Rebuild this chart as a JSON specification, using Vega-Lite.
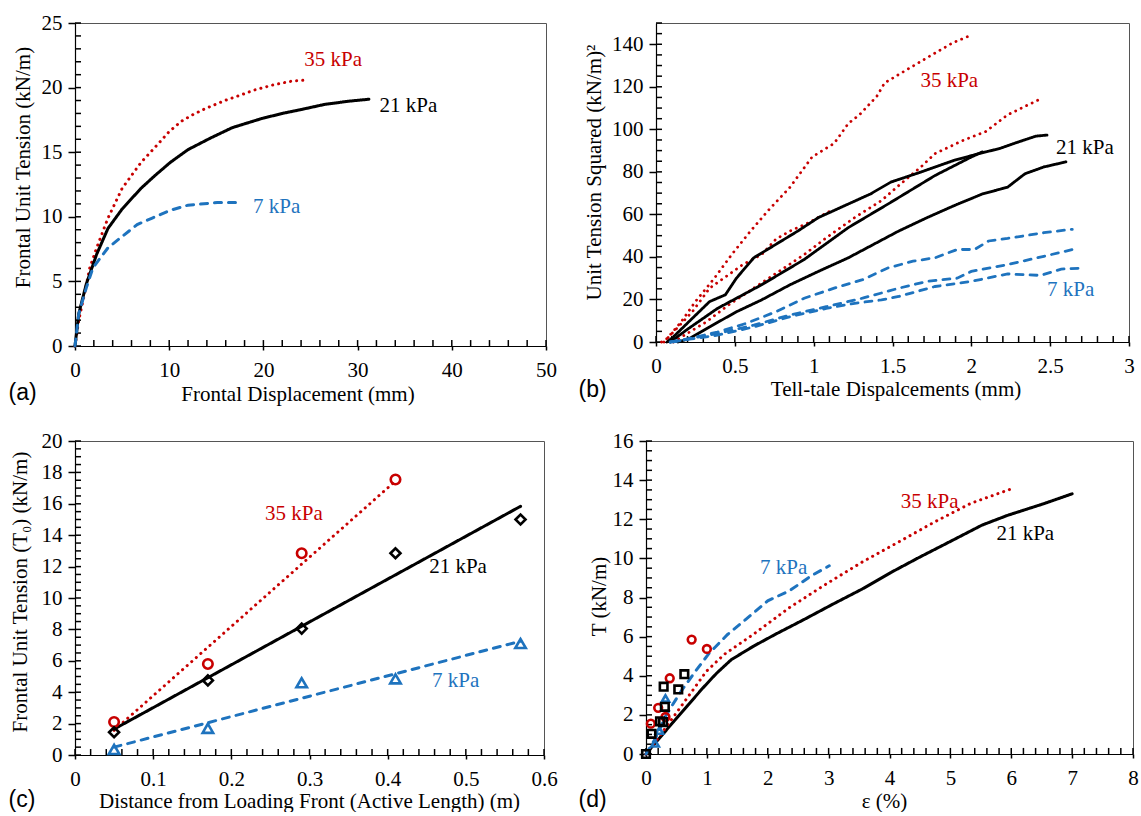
{
  "$schema": "https://vega.github.io/schema/vega-lite/v6.json",
  "background": "white",
  "padding": {"left": 7, "top": 11, "right": 0, "bottom": 0},
  "config": {
    "font": "Liberation Serif",
    "view": {"stroke": "#555", "strokeWidth": 1},
    "axis": {
      "labelFont": "Liberation Serif", "labelFontSize": 21, "labelColor": "#000",
      "titleFont": "Liberation Serif", "titleFontSize": 21, "titleFontWeight": "normal", "titleColor": "#000",
      "tickColor": "#000", "tickWidth": 1.5, "domainColor": "#000", "domainWidth": 1.2, "grid": false,
      "labelFlush": false, "labelOverlap": false
    },
    "text": {"font": "Liberation Serif", "fontSize": 21}
  },
  "datasets": {
    "a_xt": [{"v":0},{"v":2},{"v":4},{"v":6},{"v":8},{"v":10},{"v":12},{"v":14},{"v":16},{"v":18},{"v":20},{"v":22},{"v":24},{"v":26},{"v":28},{"v":30},{"v":32},{"v":34},{"v":36},{"v":38},{"v":40},{"v":42},{"v":44},{"v":46},{"v":48},{"v":50}],
    "a_yt": [{"v":0},{"v":1},{"v":2},{"v":3},{"v":4},{"v":5},{"v":6},{"v":7},{"v":8},{"v":9},{"v":10},{"v":11},{"v":12},{"v":13},{"v":14},{"v":15},{"v":16},{"v":17},{"v":18},{"v":19},{"v":20},{"v":21},{"v":22},{"v":23},{"v":24},{"v":25}],
    "b_xt": [{"v":0},{"v":0.1},{"v":0.2},{"v":0.3},{"v":0.4},{"v":0.5},{"v":0.6},{"v":0.7},{"v":0.8},{"v":0.9},{"v":1},{"v":1.1},{"v":1.2},{"v":1.3},{"v":1.4},{"v":1.5},{"v":1.6},{"v":1.7},{"v":1.8},{"v":1.9},{"v":2},{"v":2.1},{"v":2.2},{"v":2.3},{"v":2.4},{"v":2.5},{"v":2.6},{"v":2.7},{"v":2.8},{"v":2.9},{"v":3}],
    "b_yt": [{"v":0},{"v":5},{"v":10},{"v":15},{"v":20},{"v":25},{"v":30},{"v":35},{"v":40},{"v":45},{"v":50},{"v":55},{"v":60},{"v":65},{"v":70},{"v":75},{"v":80},{"v":85},{"v":90},{"v":95},{"v":100},{"v":105},{"v":110},{"v":115},{"v":120},{"v":125},{"v":130},{"v":135},{"v":140},{"v":145},{"v":150}],
    "c_xt": [{"v":0},{"v":0.02},{"v":0.04},{"v":0.06},{"v":0.08},{"v":0.1},{"v":0.12},{"v":0.14},{"v":0.16},{"v":0.18},{"v":0.2},{"v":0.22},{"v":0.24},{"v":0.26},{"v":0.28},{"v":0.3},{"v":0.32},{"v":0.34},{"v":0.36},{"v":0.38},{"v":0.4},{"v":0.42},{"v":0.44},{"v":0.46},{"v":0.48},{"v":0.5},{"v":0.52},{"v":0.54},{"v":0.56},{"v":0.58},{"v":0.6}],
    "c_yt": [{"v":0},{"v":0.5},{"v":1},{"v":1.5},{"v":2},{"v":2.5},{"v":3},{"v":3.5},{"v":4},{"v":4.5},{"v":5},{"v":5.5},{"v":6},{"v":6.5},{"v":7},{"v":7.5},{"v":8},{"v":8.5},{"v":9},{"v":9.5},{"v":10},{"v":10.5},{"v":11},{"v":11.5},{"v":12},{"v":12.5},{"v":13},{"v":13.5},{"v":14},{"v":14.5},{"v":15},{"v":15.5},{"v":16},{"v":16.5},{"v":17},{"v":17.5},{"v":18},{"v":18.5},{"v":19},{"v":19.5},{"v":20}],
    "d_xt": [{"v":0},{"v":0.2},{"v":0.4},{"v":0.6},{"v":0.8},{"v":1},{"v":1.2},{"v":1.4},{"v":1.6},{"v":1.8},{"v":2},{"v":2.2},{"v":2.4},{"v":2.6},{"v":2.8},{"v":3},{"v":3.2},{"v":3.4},{"v":3.6},{"v":3.8},{"v":4},{"v":4.2},{"v":4.4},{"v":4.6},{"v":4.8},{"v":5},{"v":5.2},{"v":5.4},{"v":5.6},{"v":5.8},{"v":6},{"v":6.2},{"v":6.4},{"v":6.6},{"v":6.8},{"v":7},{"v":7.2},{"v":7.4},{"v":7.6},{"v":7.8},{"v":8}],
    "d_yt": [{"v":0},{"v":0.5},{"v":1},{"v":1.5},{"v":2},{"v":2.5},{"v":3},{"v":3.5},{"v":4},{"v":4.5},{"v":5},{"v":5.5},{"v":6},{"v":6.5},{"v":7},{"v":7.5},{"v":8},{"v":8.5},{"v":9},{"v":9.5},{"v":10},{"v":10.5},{"v":11},{"v":11.5},{"v":12},{"v":12.5},{"v":13},{"v":13.5},{"v":14},{"v":14.5},{"v":15},{"v":15.5},{"v":16}],
    "a_lines": [
      {"s":"35 kPa","x":0,"y":0},{"s":"35 kPa","x":0.4,"y":2},{"s":"35 kPa","x":1,"y":4},{"s":"35 kPa","x":1.55,"y":6},{"s":"35 kPa","x":2.3,"y":7.6},{"s":"35 kPa","x":3.5,"y":9.9},{"s":"35 kPa","x":5,"y":12.2},{"s":"35 kPa","x":7,"y":14.2},{"s":"35 kPa","x":8.9,"y":15.7},{"s":"35 kPa","x":10,"y":16.6},{"s":"35 kPa","x":11.3,"y":17.4},{"s":"35 kPa","x":12.5,"y":17.9},{"s":"35 kPa","x":13.6,"y":18.3},{"s":"35 kPa","x":15.9,"y":19.0},{"s":"35 kPa","x":17.5,"y":19.4},{"s":"35 kPa","x":19,"y":19.8},{"s":"35 kPa","x":21,"y":20.2},{"s":"35 kPa","x":23,"y":20.5},{"s":"35 kPa","x":24.8,"y":20.6},
      {"s":"21 kPa","x":0,"y":0},{"s":"21 kPa","x":0.4,"y":2.5},{"s":"21 kPa","x":1.2,"y":4.8},{"s":"21 kPa","x":2.3,"y":7.1},{"s":"21 kPa","x":3.5,"y":9.1},{"s":"21 kPa","x":5,"y":10.6},{"s":"21 kPa","x":7,"y":12.2},{"s":"21 kPa","x":8.5,"y":13.2},{"s":"21 kPa","x":10.1,"y":14.2},{"s":"21 kPa","x":12,"y":15.2},{"s":"21 kPa","x":14.4,"y":16.1},{"s":"21 kPa","x":16.7,"y":16.9},{"s":"21 kPa","x":19.8,"y":17.6},{"s":"21 kPa","x":22,"y":18},{"s":"21 kPa","x":24,"y":18.3},{"s":"21 kPa","x":26.5,"y":18.7},{"s":"21 kPa","x":29.1,"y":18.95},{"s":"21 kPa","x":31.2,"y":19.1},
      {"s":"7 kPa","x":0,"y":0},{"s":"7 kPa","x":0.4,"y":2.5},{"s":"7 kPa","x":1.2,"y":4.5},{"s":"7 kPa","x":1.9,"y":6.05},{"s":"7 kPa","x":3.5,"y":7.6},{"s":"7 kPa","x":4.7,"y":8.3},{"s":"7 kPa","x":6.6,"y":9.4},{"s":"7 kPa","x":8.2,"y":9.9},{"s":"7 kPa","x":10.1,"y":10.5},{"s":"7 kPa","x":12,"y":10.9},{"s":"7 kPa","x":15.1,"y":11.1},{"s":"7 kPa","x":17.7,"y":11.1}
    ],
    "a_text": [
      {"s":"35 kPa","x":27.4,"y":22.1,"label":"35 kPa"},
      {"s":"21 kPa","x":35.4,"y":18.6,"label":"21 kPa"},
      {"s":"7 kPa","x":21.4,"y":10.75,"label":"7 kPa"}
    ],
    "b_lines": [
      {"s":"35 kPa","c":"r1","x":0.035,"y":0},{"s":"35 kPa","c":"r1","x":0.07,"y":1.6},{"s":"35 kPa","c":"r1","x":0.16,"y":9.5},{"s":"35 kPa","c":"r1","x":0.25,"y":19},{"s":"35 kPa","c":"r1","x":0.37,"y":30},{"s":"35 kPa","c":"r1","x":0.48,"y":41.1},{"s":"35 kPa","c":"r1","x":0.6,"y":52.2},{"s":"35 kPa","c":"r1","x":0.71,"y":61.7},{"s":"35 kPa","c":"r1","x":0.85,"y":72.8},{"s":"35 kPa","c":"r1","x":0.99,"y":87},{"s":"35 kPa","c":"r1","x":1.13,"y":93.4},{"s":"35 kPa","c":"r1","x":1.22,"y":102.8},{"s":"35 kPa","c":"r1","x":1.29,"y":106.8},{"s":"35 kPa","c":"r1","x":1.4,"y":115.5},{"s":"35 kPa","c":"r1","x":1.45,"y":121.8},{"s":"35 kPa","c":"r1","x":1.54,"y":125.8},{"s":"35 kPa","c":"r1","x":1.72,"y":133.7},{"s":"35 kPa","c":"r1","x":1.885,"y":140.8},{"s":"35 kPa","c":"r1","x":2.0,"y":144.3},
      {"s":"35 kPa","c":"r2","x":0.05,"y":0},{"s":"35 kPa","c":"r2","x":0.11,"y":4.7},{"s":"35 kPa","c":"r2","x":0.23,"y":14.2},{"s":"35 kPa","c":"r2","x":0.34,"y":25.3},{"s":"35 kPa","c":"r2","x":0.46,"y":31.6},{"s":"35 kPa","c":"r2","x":0.55,"y":36.4},{"s":"35 kPa","c":"r2","x":0.67,"y":41.1},{"s":"35 kPa","c":"r2","x":0.76,"y":48.3},{"s":"35 kPa","c":"r2","x":0.85,"y":52.2},{"s":"35 kPa","c":"r2","x":0.97,"y":56.2},{"s":"35 kPa","c":"r2","x":1.1,"y":61.4},
      {"s":"35 kPa","c":"r3","x":0.11,"y":0},{"s":"35 kPa","c":"r3","x":0.18,"y":3.2},{"s":"35 kPa","c":"r3","x":0.32,"y":9.5},{"s":"35 kPa","c":"r3","x":0.46,"y":17.4},{"s":"35 kPa","c":"r3","x":0.62,"y":25.3},{"s":"35 kPa","c":"r3","x":0.78,"y":33.2},{"s":"35 kPa","c":"r3","x":0.94,"y":41.1},{"s":"35 kPa","c":"r3","x":1.08,"y":49},{"s":"35 kPa","c":"r3","x":1.26,"y":58.5},{"s":"35 kPa","c":"r3","x":1.43,"y":66.5},{"s":"35 kPa","c":"r3","x":1.54,"y":73.6},{"s":"35 kPa","c":"r3","x":1.68,"y":82.3},{"s":"35 kPa","c":"r3","x":1.77,"y":88.6},{"s":"35 kPa","c":"r3","x":1.95,"y":94.9},{"s":"35 kPa","c":"r3","x":2.09,"y":98.9},{"s":"35 kPa","c":"r3","x":2.23,"y":106.8},{"s":"35 kPa","c":"r3","x":2.34,"y":110.8},{"s":"35 kPa","c":"r3","x":2.45,"y":114.7},
      {"s":"21 kPa","c":"k1","x":0.07,"y":0},{"s":"21 kPa","c":"k1","x":0.11,"y":2.4},{"s":"21 kPa","c":"k1","x":0.23,"y":11.1},{"s":"21 kPa","c":"k1","x":0.34,"y":19},{"s":"21 kPa","c":"k1","x":0.44,"y":22.2},{"s":"21 kPa","c":"k1","x":0.51,"y":30},{"s":"21 kPa","c":"k1","x":0.62,"y":39.6},{"s":"21 kPa","c":"k1","x":0.76,"y":45.9},{"s":"21 kPa","c":"k1","x":0.9,"y":52.2},{"s":"21 kPa","c":"k1","x":1.03,"y":58.5},{"s":"21 kPa","c":"k1","x":1.22,"y":64.9},{"s":"21 kPa","c":"k1","x":1.36,"y":69.6},{"s":"21 kPa","c":"k1","x":1.49,"y":75.2},{"s":"21 kPa","c":"k1","x":1.68,"y":79.9},{"s":"21 kPa","c":"k1","x":1.89,"y":85.4},{"s":"21 kPa","c":"k1","x":2.05,"y":88.6},{"s":"21 kPa","c":"k1","x":2.18,"y":91},{"s":"21 kPa","c":"k1","x":2.3,"y":94.1},{"s":"21 kPa","c":"k1","x":2.41,"y":96.8},{"s":"21 kPa","c":"k1","x":2.48,"y":97.3},
      {"s":"21 kPa","c":"k2","x":0.09,"y":0},{"s":"21 kPa","c":"k2","x":0.2,"y":6},{"s":"21 kPa","c":"k2","x":0.39,"y":15.8},{"s":"21 kPa","c":"k2","x":0.67,"y":26.9},{"s":"21 kPa","c":"k2","x":0.94,"y":38.8},{"s":"21 kPa","c":"k2","x":1.22,"y":53.8},{"s":"21 kPa","c":"k2","x":1.49,"y":65.7},{"s":"21 kPa","c":"k2","x":1.77,"y":78.3},{"s":"21 kPa","c":"k2","x":2.0,"y":87},{"s":"21 kPa","c":"k2","x":2.07,"y":89.4},
      {"s":"21 kPa","c":"k3","x":0.14,"y":0},{"s":"21 kPa","c":"k3","x":0.21,"y":1.6},{"s":"21 kPa","c":"k3","x":0.34,"y":7.1},{"s":"21 kPa","c":"k3","x":0.51,"y":14.2},{"s":"21 kPa","c":"k3","x":0.67,"y":19.8},{"s":"21 kPa","c":"k3","x":0.85,"y":26.9},{"s":"21 kPa","c":"k3","x":1.03,"y":33.2},{"s":"21 kPa","c":"k3","x":1.22,"y":39.6},{"s":"21 kPa","c":"k3","x":1.38,"y":45.9},{"s":"21 kPa","c":"k3","x":1.54,"y":52.2},{"s":"21 kPa","c":"k3","x":1.72,"y":58.5},{"s":"21 kPa","c":"k3","x":1.89,"y":64.1},{"s":"21 kPa","c":"k3","x":2.07,"y":69.6},{"s":"21 kPa","c":"k3","x":2.23,"y":72.8},{"s":"21 kPa","c":"k3","x":2.34,"y":79.1},{"s":"21 kPa","c":"k3","x":2.46,"y":82.3},{"s":"21 kPa","c":"k3","x":2.6,"y":84.7},
      {"s":"7 kPa","c":"b1","x":0.09,"y":0},{"s":"7 kPa","c":"b1","x":0.21,"y":1.6},{"s":"7 kPa","c":"b1","x":0.39,"y":4.7},{"s":"7 kPa","c":"b1","x":0.57,"y":8.7},{"s":"7 kPa","c":"b1","x":0.76,"y":14.2},{"s":"7 kPa","c":"b1","x":0.94,"y":20.6},{"s":"7 kPa","c":"b1","x":1.13,"y":25.3},{"s":"7 kPa","c":"b1","x":1.31,"y":29.3},{"s":"7 kPa","c":"b1","x":1.47,"y":34.8},{"s":"7 kPa","c":"b1","x":1.63,"y":38},{"s":"7 kPa","c":"b1","x":1.77,"y":39.6},{"s":"7 kPa","c":"b1","x":1.91,"y":43.5},{"s":"7 kPa","c":"b1","x":2.02,"y":43.5},{"s":"7 kPa","c":"b1","x":2.11,"y":47.5},{"s":"7 kPa","c":"b1","x":2.23,"y":48.7},{"s":"7 kPa","c":"b1","x":2.46,"y":51.4},{"s":"7 kPa","c":"b1","x":2.64,"y":53},
      {"s":"7 kPa","c":"b2","x":0.09,"y":0},{"s":"7 kPa","c":"b2","x":0.16,"y":0.8},{"s":"7 kPa","c":"b2","x":0.39,"y":4},{"s":"7 kPa","c":"b2","x":0.62,"y":7.9},{"s":"7 kPa","c":"b2","x":0.85,"y":12.7},{"s":"7 kPa","c":"b2","x":1.08,"y":16.6},{"s":"7 kPa","c":"b2","x":1.31,"y":20.6},{"s":"7 kPa","c":"b2","x":1.54,"y":25.3},{"s":"7 kPa","c":"b2","x":1.72,"y":28.5},{"s":"7 kPa","c":"b2","x":1.91,"y":30},{"s":"7 kPa","c":"b2","x":2.0,"y":33.2},{"s":"7 kPa","c":"b2","x":2.23,"y":36.4},{"s":"7 kPa","c":"b2","x":2.46,"y":40.3},{"s":"7 kPa","c":"b2","x":2.66,"y":43.8},
      {"s":"7 kPa","c":"b3","x":0.11,"y":0},{"s":"7 kPa","c":"b3","x":0.16,"y":0.8},{"s":"7 kPa","c":"b3","x":0.39,"y":3.2},{"s":"7 kPa","c":"b3","x":0.62,"y":7.1},{"s":"7 kPa","c":"b3","x":0.85,"y":11.9},{"s":"7 kPa","c":"b3","x":1.08,"y":15.8},{"s":"7 kPa","c":"b3","x":1.26,"y":18.2},{"s":"7 kPa","c":"b3","x":1.43,"y":19.8},{"s":"7 kPa","c":"b3","x":1.54,"y":21.4},{"s":"7 kPa","c":"b3","x":1.77,"y":26.1},{"s":"7 kPa","c":"b3","x":2.0,"y":28.5},{"s":"7 kPa","c":"b3","x":2.23,"y":32},{"s":"7 kPa","c":"b3","x":2.44,"y":31.3},{"s":"7 kPa","c":"b3","x":2.57,"y":34.3},{"s":"7 kPa","c":"b3","x":2.72,"y":34.8}
    ],
    "b_text": [
      {"s":"35 kPa","x":1.86,"y":122.9,"label":"35 kPa"},
      {"s":"21 kPa","x":2.72,"y":91,"label":"21 kPa"},
      {"s":"7 kPa","x":2.63,"y":24.5,"label":"7 kPa"}
    ],
    "c_lines": [
      {"s":"35 kPa","x":0.05,"y":1.57},{"s":"35 kPa","x":0.41,"y":17.45},
      {"s":"21 kPa","x":0.05,"y":1.65},{"s":"21 kPa","x":0.57,"y":15.84},
      {"s":"7 kPa","x":0.05,"y":0.5},{"s":"7 kPa","x":0.57,"y":7.25}
    ],
    "c_pts": [
      {"s":"35 kPa","x":0.05,"y":2.1},{"s":"35 kPa","x":0.17,"y":5.8},{"s":"35 kPa","x":0.29,"y":12.85},{"s":"35 kPa","x":0.41,"y":17.55},
      {"s":"21 kPa","x":0.05,"y":1.45},{"s":"21 kPa","x":0.17,"y":4.75},{"s":"21 kPa","x":0.29,"y":8.05},{"s":"21 kPa","x":0.41,"y":12.85},{"s":"21 kPa","x":0.57,"y":15.0},
      {"s":"7 kPa","x":0.05,"y":0.35},{"s":"7 kPa","x":0.17,"y":1.7},{"s":"7 kPa","x":0.29,"y":4.6},{"s":"7 kPa","x":0.41,"y":4.85},{"s":"7 kPa","x":0.57,"y":7.1}
    ],
    "c_text": [
      {"s":"35 kPa","x":0.28,"y":15.34,"label":"35 kPa"},
      {"s":"21 kPa","x":0.49,"y":12.0,"label":"21 kPa"},
      {"s":"7 kPa","x":0.487,"y":4.73,"label":"7 kPa"}
    ],
    "d_lines": [
      {"s":"21 kPa","x":0,"y":0},{"s":"21 kPa","x":0.21,"y":0.77},{"s":"21 kPa","x":0.45,"y":1.64},{"s":"21 kPa","x":0.69,"y":2.5},{"s":"21 kPa","x":0.93,"y":3.36},{"s":"21 kPa","x":1.16,"y":4.13},{"s":"21 kPa","x":1.4,"y":4.82},{"s":"21 kPa","x":1.76,"y":5.5},{"s":"21 kPa","x":2.12,"y":6.11},{"s":"21 kPa","x":2.6,"y":6.88},{"s":"21 kPa","x":3.07,"y":7.66},{"s":"21 kPa","x":3.55,"y":8.43},{"s":"21 kPa","x":4.03,"y":9.29},{"s":"21 kPa","x":4.5,"y":10.07},{"s":"21 kPa","x":5.04,"y":10.93},{"s":"21 kPa","x":5.52,"y":11.7},{"s":"21 kPa","x":5.94,"y":12.2},{"s":"21 kPa","x":6.54,"y":12.8},{"s":"21 kPa","x":7.0,"y":13.3},
      {"s":"35 kPa","x":0,"y":0},{"s":"35 kPa","x":0.27,"y":1.12},{"s":"35 kPa","x":0.51,"y":2.15},{"s":"35 kPa","x":0.75,"y":3.18},{"s":"35 kPa","x":0.99,"y":4.22},{"s":"35 kPa","x":1.28,"y":5.08},{"s":"35 kPa","x":1.76,"y":6.11},{"s":"35 kPa","x":2.36,"y":7.49},{"s":"35 kPa","x":2.96,"y":8.69},{"s":"35 kPa","x":3.55,"y":9.81},{"s":"35 kPa","x":4.15,"y":10.84},{"s":"35 kPa","x":4.75,"y":11.88},{"s":"35 kPa","x":5.34,"y":12.82},{"s":"35 kPa","x":6.0,"y":13.55},
      {"s":"7 kPa","x":0,"y":0},{"s":"7 kPa","x":0.15,"y":0.77},{"s":"7 kPa","x":0.33,"y":1.98},{"s":"7 kPa","x":0.57,"y":3.18},{"s":"7 kPa","x":0.81,"y":4.22},{"s":"7 kPa","x":1.04,"y":5.16},{"s":"7 kPa","x":1.34,"y":6.11},{"s":"7 kPa","x":1.64,"y":6.88},{"s":"7 kPa","x":2.0,"y":7.83},{"s":"7 kPa","x":2.36,"y":8.35},{"s":"7 kPa","x":2.72,"y":9.12},{"s":"7 kPa","x":3.01,"y":9.62}
    ],
    "d_pts": [
      {"s":"7 kPa","x":0.15,"y":0.55},{"s":"7 kPa","x":0.22,"y":1.2},{"s":"7 kPa","x":0.32,"y":2.84},
      {"s":"35 kPa","x":0.08,"y":1.55},{"s":"35 kPa","x":0.2,"y":2.36},{"s":"35 kPa","x":0.32,"y":1.89},{"s":"35 kPa","x":0.39,"y":3.87},{"s":"35 kPa","x":0.75,"y":5.85},{"s":"35 kPa","x":1.0,"y":5.37},
      {"s":"21 kPa","x":0,"y":0},{"s":"21 kPa","x":0.09,"y":1.03},{"s":"21 kPa","x":0.23,"y":1.67},{"s":"21 kPa","x":0.28,"y":1.63},{"s":"21 kPa","x":0.31,"y":2.41},{"s":"21 kPa","x":0.29,"y":3.44},{"s":"21 kPa","x":0.53,"y":3.3},{"s":"21 kPa","x":0.63,"y":4.08}
    ],
    "d_text": [
      {"s":"35 kPa","x":4.66,"y":12.9,"label":"35 kPa"},
      {"s":"21 kPa","x":6.23,"y":11.27,"label":"21 kPa"},
      {"s":"7 kPa","x":2.26,"y":9.5,"label":"7 kPa"}
    ]
  },
  "bounds": "full",
  "spacing": 24,
  "resolve": {"scale": {"shape": "independent", "size": "independent"}},
  "vconcat": [
    {
      "bounds": "flush",
      "spacing": 110,
      "resolve": {"scale": {"shape": "independent", "size": "independent"}},
      "hconcat": [
        {
          "width": 471, "height": 323,
          "resolve": {"axis": {"x": "independent", "y": "independent"}},
          "layer": [
            {
              "data": {"name": "a_xt"},
              "mark": {"type": "rule", "strokeWidth": 1.5, "color": "#000"},
              "encoding": {
                "x": {"field": "v", "type": "quantitative", "scale": {"domain": [0, 50], "nice": false},
                      "axis": {"orient": "bottom", "values": [0], "ticks": false, "labels": false, "domain": false,
                               "title": "(a)", "titleFont": "Liberation Sans", "titleFontSize": 23, "titleX": -67, "titleY": 53.5, "titleAlign": "left", "titleBaseline": "alphabetic", "titleAngle": 0}},
                "y": {"datum": 0, "type": "quantitative", "scale": {"domain": [0, 25], "nice": false}, "axis": null},
                "y2": {"datum": 0.46}
              }
            },
            {
              "data": {"name": "a_yt"},
              "mark": {"type": "rule", "strokeWidth": 1.5, "color": "#000"},
              "encoding": {
                "y": {"field": "v", "type": "quantitative", "axis": null},
                "x": {"datum": 0, "type": "quantitative", "axis": null},
                "x2": {"datum": 0.64}
              }
            },
            {
              "data": {"name": "a_lines"},
              "mark": {"type": "line", "strokeWidth": 3, "strokeCap": "round"},
              "encoding": {
                "x": {"field": "x", "type": "quantitative", "axis": null},
                "y": {"field": "y", "type": "quantitative", "axis": null},
                "color": {"field": "s", "type": "nominal", "scale": {"domain": ["35 kPa","21 kPa","7 kPa"], "range": ["#C80000","#000000","#1E73BE"]}, "legend": null},
                "strokeDash": {"field": "s", "type": "nominal", "scale": {"domain": ["35 kPa","21 kPa","7 kPa"], "range": [[0.1,6],[1,0],[7,7]]}, "legend": null}
              }
            },
            {
              "data": {"name": "a_text"},
              "mark": {"type": "text", "align": "center", "baseline": "middle", "fontSize": 21},
              "encoding": {
                "x": {"field": "x", "type": "quantitative",
                      "axis": {"orient": "bottom", "values": [0,10,20,30,40,50], "tickSize": 4, "labelPadding": 9, "labelExpr": "'' + datum.value",
                               "title": "Frontal Displacement (mm)", "titleX": 222.5, "titleY": 54, "titleAlign": "center", "titleBaseline": "alphabetic"}},
                "y": {"field": "y", "type": "quantitative",
                      "axis": {"orient": "left", "values": [0,5,10,15,20,25], "tickSize": 7, "labelPadding": 6, "labelExpr": "'' + datum.value",
                               "title": "Frontal Unit Tension (kN/m)", "titleX": -46, "titleY": 144, "titleAngle": -90, "titleAlign": "center", "titleBaseline": "alphabetic"}},
                "text": {"field": "label"},
                "color": {"field": "s", "type": "nominal", "scale": {"domain": ["35 kPa","21 kPa","7 kPa"], "range": ["#C80000","#000000","#1E73BE"]}, "legend": null}
              }
            }
          ]
        },
        {
          "width": 473, "height": 319,
          "resolve": {"axis": {"x": "independent", "y": "independent"}},
          "layer": [
            {
              "data": {"name": "b_xt"},
              "mark": {"type": "rule", "strokeWidth": 1.5, "color": "#000"},
              "encoding": {
                "x": {"field": "v", "type": "quantitative", "scale": {"domain": [0, 3], "nice": false},
                      "axis": {"orient": "bottom", "values": [0], "ticks": false, "labels": false, "domain": false,
                               "title": "(b)", "titleFont": "Liberation Sans", "titleFontSize": 23, "titleX": -78, "titleY": 54, "titleAlign": "left", "titleBaseline": "alphabetic", "titleAngle": 0}},
                "y": {"datum": 0, "type": "quantitative", "scale": {"domain": [0, 150], "nice": false}, "axis": null},
                "y2": {"datum": 2.8}
              }
            },
            {
              "data": {"name": "b_yt"},
              "mark": {"type": "rule", "strokeWidth": 1.5, "color": "#000"},
              "encoding": {
                "y": {"field": "v", "type": "quantitative", "axis": null},
                "x": {"datum": 0, "type": "quantitative", "axis": null},
                "x2": {"datum": 0.038}
              }
            },
            {
              "data": {"name": "b_lines"},
              "mark": {"type": "line", "strokeWidth": 2.8, "strokeCap": "round"},
              "encoding": {
                "x": {"field": "x", "type": "quantitative", "axis": null},
                "y": {"field": "y", "type": "quantitative", "axis": null},
                "detail": {"field": "c"},
                "color": {"field": "s", "type": "nominal", "scale": {"domain": ["35 kPa","21 kPa","7 kPa"], "range": ["#C80000","#000000","#1E73BE"]}, "legend": null},
                "strokeDash": {"field": "s", "type": "nominal", "scale": {"domain": ["35 kPa","21 kPa","7 kPa"], "range": [[0.1,6],[1,0],[7,7]]}, "legend": null}
              }
            },
            {
              "data": {"name": "b_text"},
              "mark": {"type": "text", "align": "center", "baseline": "middle", "fontSize": 21},
              "encoding": {
                "x": {"field": "x", "type": "quantitative",
                      "axis": {"orient": "bottom", "values": [0,0.5,1,1.5,2,2.5,3], "tickSize": 4, "labelPadding": 9, "labelExpr": "'' + datum.value",
                               "title": "Tell-tale Dispalcements (mm)", "titleX": 239.5, "titleY": 53.5, "titleAlign": "center", "titleBaseline": "alphabetic"}},
                "y": {"field": "y", "type": "quantitative",
                      "axis": {"orient": "left", "values": [0,20,40,60,80,100,120,140], "tickSize": 7, "labelPadding": 6, "labelExpr": "'' + datum.value",
                               "title": "Unit Tension Squared (kN/m)²", "titleX": -56, "titleY": 149, "titleAngle": -90, "titleAlign": "center", "titleBaseline": "alphabetic"}},
                "text": {"field": "label"},
                "color": {"field": "s", "type": "nominal", "scale": {"domain": ["35 kPa","21 kPa","7 kPa"], "range": ["#C80000","#000000","#1E73BE"]}, "legend": null}
              }
            }
          ]
        }
      ]
    },
    {
      "bounds": "flush",
      "spacing": 102,
      "resolve": {"scale": {"shape": "independent", "size": "independent"}},
      "hconcat": [
        {
          "width": 469, "height": 314,
          "resolve": {"axis": {"x": "independent", "y": "independent"}},
          "layer": [
            {
              "data": {"name": "c_xt"},
              "mark": {"type": "rule", "strokeWidth": 1.5, "color": "#000"},
              "encoding": {
                "x": {"field": "v", "type": "quantitative", "scale": {"domain": [0, 0.6], "nice": false},
                      "axis": {"orient": "bottom", "values": [0], "ticks": false, "labels": false, "domain": false,
                               "title": "(c)", "titleFont": "Liberation Sans", "titleFontSize": 23, "titleX": -67, "titleY": 51.5, "titleAlign": "left", "titleBaseline": "alphabetic", "titleAngle": 0}},
                "y": {"datum": 0, "type": "quantitative", "scale": {"domain": [0, 20], "nice": false}, "axis": null},
                "y2": {"datum": 0.38}
              }
            },
            {
              "data": {"name": "c_yt"},
              "mark": {"type": "rule", "strokeWidth": 1.5, "color": "#000"},
              "encoding": {
                "y": {"field": "v", "type": "quantitative", "axis": null},
                "x": {"datum": 0, "type": "quantitative", "axis": null},
                "x2": {"datum": 0.0077}
              }
            },
            {
              "data": {"name": "c_lines"},
              "mark": {"type": "line", "strokeWidth": 3, "strokeCap": "round"},
              "encoding": {
                "x": {"field": "x", "type": "quantitative", "axis": null},
                "y": {"field": "y", "type": "quantitative", "axis": null},
                "color": {"field": "s", "type": "nominal", "scale": {"domain": ["35 kPa","21 kPa","7 kPa"], "range": ["#C80000","#000000","#1E73BE"]}, "legend": null},
                "strokeDash": {"field": "s", "type": "nominal", "scale": {"domain": ["35 kPa","21 kPa","7 kPa"], "range": [[0.1,6],[1,0],[7,7]]}, "legend": null}
              }
            },
            {
              "data": {"name": "c_pts"},
              "mark": {"type": "point", "filled": false, "strokeWidth": 2.6, "opacity": 1},
              "encoding": {
                "x": {"field": "x", "type": "quantitative", "axis": null},
                "y": {"field": "y", "type": "quantitative", "axis": null},
                "color": {"field": "s", "type": "nominal", "scale": {"domain": ["35 kPa","21 kPa","7 kPa"], "range": ["#C80000","#000000","#1E73BE"]}, "legend": null},
                "shape": {"field": "s", "type": "nominal", "scale": {"domain": ["35 kPa","21 kPa","7 kPa"], "range": ["circle","diamond","triangle-up"]}, "legend": null},
                "size": {"field": "s", "type": "nominal", "scale": {"domain": ["35 kPa","21 kPa","7 kPa"], "range": [90, 110, 100]}, "legend": null}
              }
            },
            {
              "data": {"name": "c_text"},
              "mark": {"type": "text", "align": "center", "baseline": "middle", "fontSize": 21},
              "encoding": {
                "x": {"field": "x", "type": "quantitative",
                      "axis": {"orient": "bottom", "values": [0,0.1,0.2,0.3,0.4,0.5,0.6], "tickSize": 4, "labelPadding": 9, "labelExpr": "'' + datum.value",
                               "title": "Distance from Loading Front (Active Length) (m)", "titleX": 234, "titleY": 52, "titleAlign": "center", "titleBaseline": "alphabetic"}},
                "y": {"field": "y", "type": "quantitative",
                      "axis": {"orient": "left", "values": [0,2,4,6,8,10,12,14,16,18,20], "tickSize": 7, "labelPadding": 6, "labelExpr": "'' + datum.value",
                               "title": "Frontal Unit Tension (T₀) (kN/m)", "titleX": -49, "titleY": 150.5, "titleAngle": -90, "titleAlign": "center", "titleBaseline": "alphabetic"}},
                "text": {"field": "label"},
                "color": {"field": "s", "type": "nominal", "scale": {"domain": ["35 kPa","21 kPa","7 kPa"], "range": ["#C80000","#000000","#1E73BE"]}, "legend": null}
              }
            }
          ]
        },
        {
          "width": 487, "height": 313,
          "resolve": {"axis": {"x": "independent", "y": "independent"}},
          "layer": [
            {
              "data": {"name": "d_xt"},
              "mark": {"type": "rule", "strokeWidth": 1.5, "color": "#000"},
              "encoding": {
                "x": {"field": "v", "type": "quantitative", "scale": {"domain": [0, 8], "nice": false},
                      "axis": {"orient": "bottom", "values": [0], "ticks": false, "labels": false, "domain": false,
                               "title": "(d)", "titleFont": "Liberation Sans", "titleFontSize": 23, "titleX": -68, "titleY": 52.5, "titleAlign": "left", "titleBaseline": "alphabetic", "titleAngle": 0}},
                "y": {"datum": 0, "type": "quantitative", "scale": {"domain": [0, 16], "nice": false}, "axis": null},
                "y2": {"datum": 0.31}
              }
            },
            {
              "data": {"name": "d_yt"},
              "mark": {"type": "rule", "strokeWidth": 1.5, "color": "#000"},
              "encoding": {
                "y": {"field": "v", "type": "quantitative", "axis": null},
                "x": {"datum": 0, "type": "quantitative", "axis": null},
                "x2": {"datum": 0.099}
              }
            },
            {
              "data": {"name": "d_lines"},
              "mark": {"type": "line", "strokeWidth": 3, "strokeCap": "round"},
              "encoding": {
                "x": {"field": "x", "type": "quantitative", "axis": null},
                "y": {"field": "y", "type": "quantitative", "axis": null},
                "color": {"field": "s", "type": "nominal", "scale": {"domain": ["35 kPa","21 kPa","7 kPa"], "range": ["#C80000","#000000","#1E73BE"]}, "legend": null},
                "strokeDash": {"field": "s", "type": "nominal", "scale": {"domain": ["35 kPa","21 kPa","7 kPa"], "range": [[0.1,6],[1,0],[7,7]]}, "legend": null}
              }
            },
            {
              "data": {"name": "d_pts"},
              "mark": {"type": "point", "filled": false, "strokeWidth": 2.6, "opacity": 1},
              "encoding": {
                "x": {"field": "x", "type": "quantitative", "axis": null},
                "y": {"field": "y", "type": "quantitative", "axis": null},
                "color": {"field": "s", "type": "nominal", "scale": {"domain": ["35 kPa","21 kPa","7 kPa"], "range": ["#C80000","#000000","#1E73BE"]}, "legend": null},
                "shape": {"field": "s", "type": "nominal", "scale": {"domain": ["35 kPa","21 kPa","7 kPa"], "range": ["circle","square","triangle-up"]}, "legend": null},
                "size": {"field": "s", "type": "nominal", "scale": {"domain": ["35 kPa","21 kPa","7 kPa"], "range": [60, 55, 75]}, "legend": null}
              }
            },
            {
              "data": {"name": "d_text"},
              "mark": {"type": "text", "align": "center", "baseline": "middle", "fontSize": 21},
              "encoding": {
                "x": {"field": "x", "type": "quantitative",
                      "axis": {"orient": "bottom", "values": [0,1,2,3,4,5,6,7,8], "tickSize": 4, "labelPadding": 9, "labelExpr": "'' + datum.value",
                               "title": "ε (%)", "titleX": 238, "titleY": 53, "titleAlign": "center", "titleBaseline": "alphabetic"}},
                "y": {"field": "y", "type": "quantitative",
                      "axis": {"orient": "left", "values": [0,2,4,6,8,10,12,14,16], "tickSize": 7, "labelPadding": 6, "labelExpr": "'' + datum.value",
                               "title": "T (kN/m)", "titleX": -41, "titleY": 155, "titleAngle": -90, "titleAlign": "center", "titleBaseline": "alphabetic"}},
                "text": {"field": "label"},
                "color": {"field": "s", "type": "nominal", "scale": {"domain": ["35 kPa","21 kPa","7 kPa"], "range": ["#C80000","#000000","#1E73BE"]}, "legend": null}
              }
            }
          ]
        }
      ]
    }
  ]
}
